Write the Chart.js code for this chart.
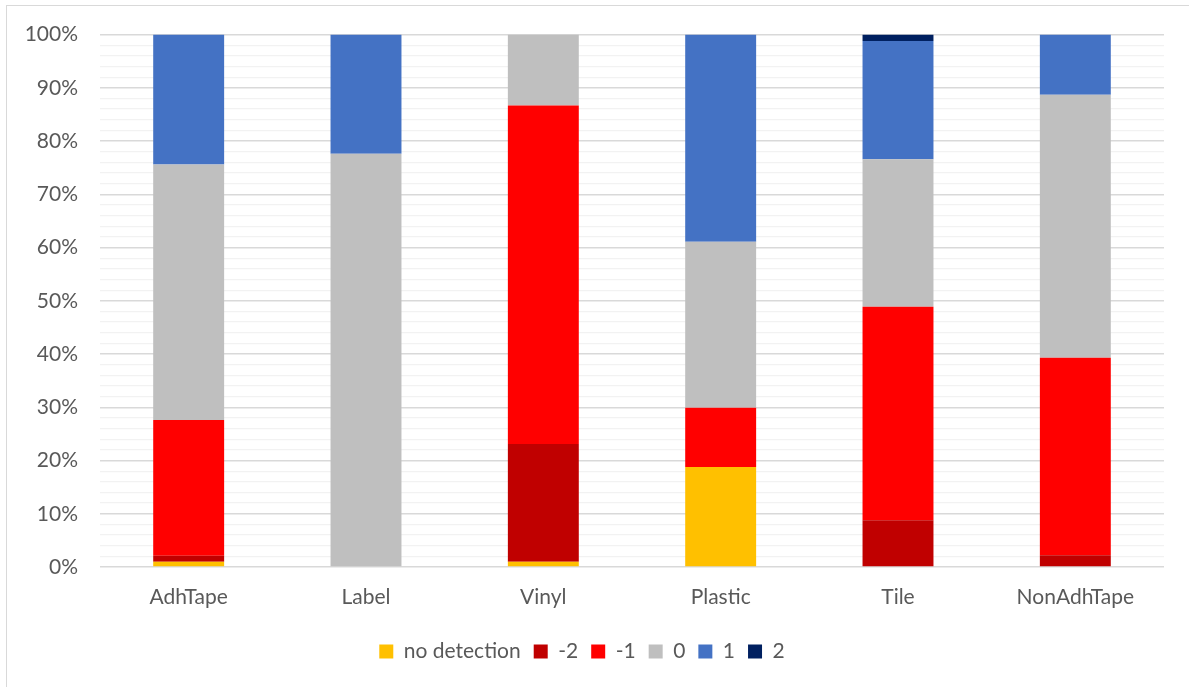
<!DOCTYPE html>
<html>
<head>
<meta charset="utf-8">
<script src="https://cdn.jsdelivr.net/npm/chart.js@4"></script>
<style>
  html, body { margin: 0; padding: 0; background: #fff; }
  #frame {
    position: absolute; left: 6px; top: 5px; width: 1200px; height: 700px;
    border-left: 1.5px solid #d9d9d9; border-top: 1.5px solid #d9d9d9;
  }
  #wrap { position: absolute; left: 0; top: 0; width: 1189px; height: 687px; }
</style>
</head>
<body>
<div id="frame"></div>
<div id="wrap"><canvas id="stackChart"></canvas></div>
<script>
// --- Categories and shares (percent of each column) ---
const categories = ["AdhTape", "Label", "Vinyl", "Plastic", "Tile", "NonAdhTape"];
const seriesNames = ["no detection", "-2", "-1", "0", "1", "2"];
const noDetection = [1.0, 0, 1.0, 18.8, 0, 0];
const minusTwo    = [1.1, 0, 22.1, 0, 8.8, 2.2];
const minusOne    = [25.5, 0, 63.6, 11.1, 40.1, 37.1];
const zero        = [48.0, 77.6, 13.3, 31.2, 27.7, 49.4];
const plusOne     = [24.4, 22.4, 0, 38.9, 22.2, 11.3];
const plusTwo     = [0, 0, 0, 0, 1.2, 0];
const seriesColors = ["#FFC000", "#C00000", "#FF0000", "#BFBFBF", "#4472C4", "#002060"];
const yTicks = [0, 10, 20, 30, 40, 50, 60, 70, 80, 90, 100];

const textColor = '#595959';
const fontFamily = 'Lato, "Open Sans", sans-serif';

function buildChart() {
    const ctx = document.getElementById('stackChart').getContext('2d');
    const seriesData = [noDetection, minusTwo, minusOne, zero, plusOne, plusTwo];

    const chartData = {
        labels: categories,
        datasets: seriesNames.map((name, i) => ({
            label: name,
            data: seriesData[i],
            backgroundColor: seriesColors[i],
            borderWidth: 0,
            barPercentage: 0.4,
            categoryPercentage: 1.0,
        }))
    };

    const chartOptions = {
        responsive: true,
        maintainAspectRatio: false,
        animation: false,
        layout: { padding: { top: 26, right: 25, left: 0, bottom: 15 } },
        scales: {
            x: {
                stacked: true,
                grid: { display: false },
                border: { display: false },
                ticks: {
                    color: textColor,
                    padding: 10,
                    font: { family: fontFamily, size: 21 }
                },
                afterFit: scale => { scale.height = 61; }
            },
            y: {
                stacked: true,
                min: 0,
                max: 100,
                border: { display: false },
                afterFit: scale => { scale.width = 100; },
                ticks: {
                    stepSize: 2,
                    autoSkip: false,
                    color: textColor,
                    padding: 22,
                    font: { family: fontFamily, size: 21 },
                    callback: v => (yTicks.includes(v) ? v + '%' : '')
                },
                grid: {
                    drawTicks: false,
                    // major lines every 10%, faint minor lines every 2%
                    color: c => (c.tick && c.tick.value % 10 === 0 ? '#d9d9d9' : '#f2f2f2'),
                    lineWidth: c => (c.tick && c.tick.value % 10 === 0 ? 1.5 : 1.3)
                }
            }
        },
        plugins: {
            legend: {
                position: 'bottom',
                labels: {
                    color: textColor,
                    boxWidth: 14,
                    boxHeight: 14,
                    padding: 13,
                    font: { family: fontFamily, size: 21 }
                }
            },
            tooltip: { enabled: false }
        }
    };

    new Chart(ctx, {
        type: 'bar',
        data: chartData,
        options: chartOptions
    });
}

buildChart();
</script>
</body>
</html>
